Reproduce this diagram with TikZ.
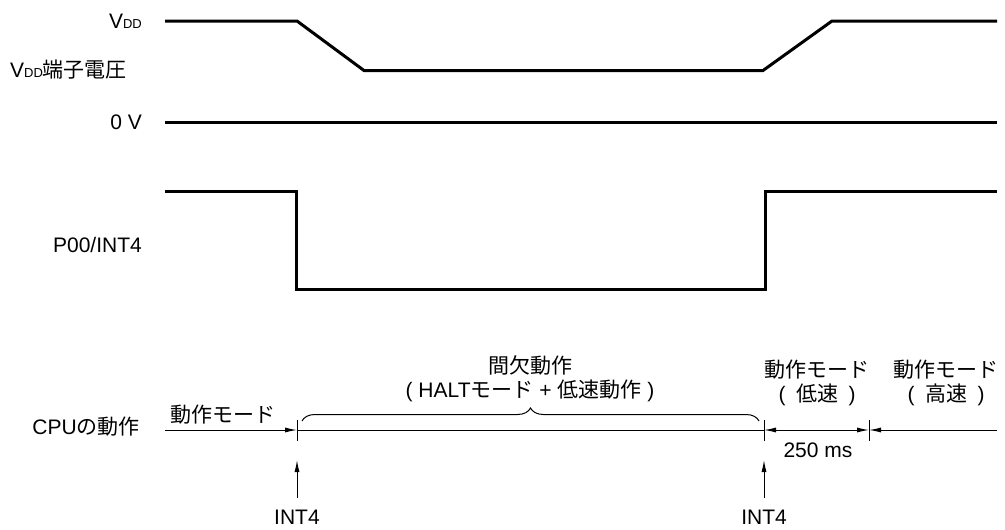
\documentclass[tikz,border=0pt]{standalone}
\usepackage{fontspec}
\setmainfont{Liberation Sans}
\newfontfamily\jp{Noto Sans CJK JP}
\usetikzlibrary{arrows.meta,decorations.pathreplacing}
\newcommand{\vdd}{V{\fontsize{13}{13}\selectfont DD}}

\begin{document}
\begin{tikzpicture}[x=1pt,y=-1pt,>={Latex[length=12pt,width=5pt]},font=\fontsize{21}{24}\selectfont,
        sig/.style={line width=3pt},
        cpu/.style={line width=1pt},
        lbl/.style={inner sep=0pt,anchor=east}]
        \useasboundingbox (0,0) rectangle (1005,530);
        % signal names
        \node[lbl] (vddtop) at (142,21) {\vdd};
        \node[lbl,anchor=west] (vddpin) at (10,70) {\vdd{\jp 端子電圧}};
        \node[lbl] (zero) at (142,122) {0 V};
        \node[lbl] (p00) at (142,245) {P00/INT4};
        \node[lbl] (cpu) at (140,427) {CPU{\jp の動作}};
        % waveforms
        \draw[sig] (165,21) -- (297,21) -- (364,70.5) -- (763,70.5) -- (832,21) -- (997,21);
        \draw[sig] (165,122) -- (997,122);
        \draw[sig] (165,191.5) -- (296.5,191.5) -- (296.5,289) -- (765,289) -- (765,191.5) -- (997,191.5);
        % CPU time line
        \coordinate (c0) at (165,430);
        \coordinate (t1) at (297,430);
        \coordinate (t2) at (764,430);
        \coordinate (t3) at (869,430);
        \coordinate (c1) at (997,430);
        \draw[cpu,->] (c0) -- (t1);
        \draw[cpu] (t1) -- (t2);
        \draw[cpu,<->] (t2) -- (t3);
        \draw[cpu,<-] (t3) -- (c1);
        \foreach \t in {t1,t2,t3}
            \draw[cpu] ([yshift=10pt]\t) -- ([yshift=-11pt]\t);
        \draw[cpu,decorate,decoration={brace,amplitude=13pt}] (302,421) -- (759,421);
        \node (mode) at (223,415) {{\jp 動作モード}};
        \node[align=center] (halt) at (530,379) {{\jp 間欠動作}\\( HALT{\jp モード} + {\jp 低速動作} )};
        \node[align=center] (slow) at (817,383) {{\jp 動作モード}\\(\enspace{\jp 低速}\enspace)};
        \node[align=center] (fast) at (946,383) {{\jp 動作モード}\\(\enspace{\jp 高速}\enspace)};
        \node (dur) at (818,450) {250 ms};
        % interrupts
        \node[inner sep=0pt] (inta) at (297,517) {INT4};
        \node[inner sep=0pt] (intb) at (764,517) {INT4};
        \coordinate (ua) at (297,460);
        \coordinate (ub) at (764,460);
        \draw[cpu,->] ([yshift=11.5pt]inta.north) -- (ua);
        \draw[cpu,->] ([yshift=11.5pt]intb.north) -- (ub);
    \end{tikzpicture}
\end{document}
